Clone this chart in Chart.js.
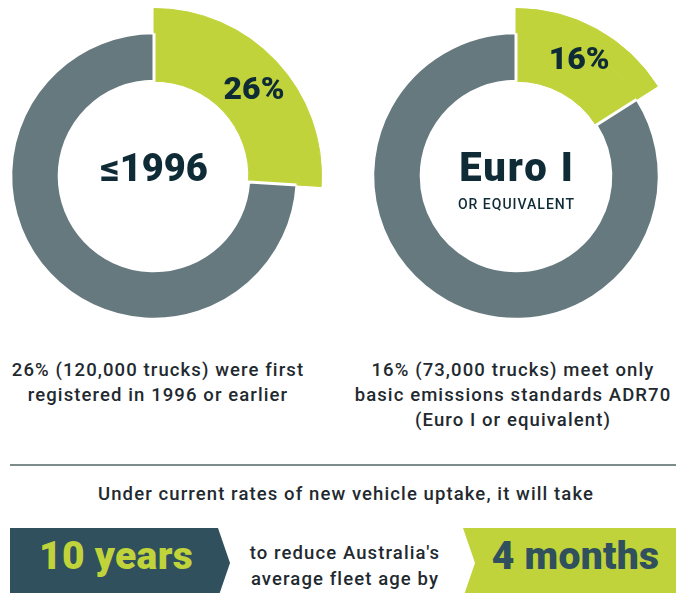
<!DOCTYPE html>
<html>
<head>
<meta charset="utf-8">
<script src="https://cdn.jsdelivr.net/npm/chart.js@4.4.0/dist/chart.umd.min.js"></script>
<style>
  html, body { margin: 0; padding: 0; }
  body {
    width: 676px; height: 593px; overflow: hidden; position: relative;
    background: #ffffff; font-family: Roboto, 'Noto Sans', sans-serif; color: #1f2a30;
  }
  canvas { position: absolute; top: 8px; }
  #ageChart { left: -14px; }
  #euroChart { left: 348px; }
  .txt { font-size: 18.5px; font-weight: 500; letter-spacing: 1.1px; }
  .caption { position: absolute; text-align: center; line-height: 25px; }
  #capLeft { left: -2px; top: 358px; width: 320px; }
  #capRight { left: 343px; top: 358px; width: 340px; }
  #rule { position: absolute; left: 10px; right: 0; top: 464px; height: 2px; background: #7d8b8c; }
  #uptake { position: absolute; left: 0; width: 692px; top: 482px; text-align: center; line-height: 25px; }
  .box { position: absolute; top: 528px; height: 70px; }
  #yearsBox { left: 10px; width: 220px; background: #2f505c; clip-path: polygon(0 0, 208px 0, 220px 35px, 208px 70px, 0 70px); }
  #monthsBox { left: 463px; width: 213px; background: #c1d33a; clip-path: polygon(0 0, 100% 0, 100% 100%, 0 100%, 12px 35px); }
  .big { position: absolute; top: 536px; font-size: 39px; line-height: 40px; font-weight: 900; letter-spacing: 0.3px; text-align: center; }
  #years { left: 10px; width: 212px; color: #c1d33a; }
  #months { left: 475px; width: 201px; color: #2f505c; }
  #reduce { position: absolute; left: 225px; width: 240px; top: 540px; text-align: center; line-height: 26px; }
</style>
</head>
<body>
<canvas id="ageChart" width="336" height="336"></canvas>
<canvas id="euroChart" width="336" height="336"></canvas>
<div class="caption txt" id="capLeft">26% (120,000 trucks) were first<br>registered in 1996 or earlier</div>
<div class="caption txt" id="capRight">16% (73,000 trucks) meet only<br>basic emissions standards ADR70<br>(Euro I or equivalent)</div>
<div id="rule"></div>
<div class="txt" id="uptake">Under current rates of new vehicle uptake, it will take</div>
<div class="box" id="yearsBox"></div>
<div class="big" id="years">10 years</div>
<div class="txt" id="reduce">to reduce Australia's<br>average fleet age by</div>
<div class="box" id="monthsBox"></div>
<div class="big" id="months">4 months</div>
<script>
// data
const sliceLabels = ['Share of fleet', 'Rest of fleet'];
const registered1996 = [26, 74];
const euroOneOnly = [16, 84];
const ageCentre = ['≤1996'];
const euroCentre = ['Euro I', 'OR EQUIVALENT'];

const GREEN = '#c1d33a';
const GREY = '#65797f';
const DARK = '#0f2b36';
const FONT = "Roboto, 'Noto Sans', sans-serif";

// percent label on the green slice + text in the hole
const donutText = {
    id: 'donutText',
    afterDraw(chart, args, opts) {
        const ctx = chart.ctx;
        const inner = chart.getDatasetMeta(1).data[0];
        const outer = chart.getDatasetMeta(0).data[0];
        const mid = (inner.startAngle + inner.endAngle) / 2 + (opts.angleNudge || 0);
        const r = (inner.innerRadius + outer.outerRadius) / 2;
        const x = inner.x + Math.cos(mid) * r;
        const y = inner.y + Math.sin(mid) * r;

        ctx.save();
        ctx.fillStyle = DARK;
        ctx.textAlign = 'center';
        ctx.textBaseline = 'middle';
        ctx.font = '900 32px ' + FONT;
        ctx.fillText(chart.data.datasets[1].data[0] + '%', x, y);

        const lines = opts.centre;
        ctx.font = '900 ' + opts.size + 'px ' + FONT;
        ctx.letterSpacing = opts.spacing + 'px';
        ctx.fillText(lines[0], inner.x + opts.spacing / 2, inner.y - 5);
        if (lines[1]) {
            ctx.font = '500 14px ' + FONT;
            ctx.letterSpacing = '1px';
            ctx.fillText(lines[1], inner.x + 0.5, inner.y + 29);
        }
        ctx.restore();
    }
};

function makeDonut(id, values, centre, nudge, size, spacing) {
    const ctx = document.getElementById(id).getContext('2d');
    return new Chart(ctx, {
        type: 'doughnut',
        data: {
            labels: sliceLabels,
            datasets: [{
                // outer band: only the highlighted slice pokes out
                data: values,
                weight: 1,
                backgroundColor: [GREEN, 'rgba(0,0,0,0)'],
                borderColor: [GREEN, 'rgba(0,0,0,0)'],
                borderWidth: [1, 0]
            }, {
                data: values,
                weight: 2,
                backgroundColor: [GREEN, GREY],
                borderColor: [GREEN, '#ffffff'],
                borderWidth: [1, 3]
            }]
        },
        options: {
            responsive: false,
            animation: false,
            events: [],
            cutout: '56.6%',
            plugins: {
                legend: { display: false },
                tooltip: { enabled: false },
                donutText: { centre: centre, angleNudge: nudge, size: size, spacing: spacing }
            }
        },
        plugins: [donutText]
    });
}

makeDonut('ageChart', registered1996, ageCentre, 0.05, 38, 0);
makeDonut('euroChart', euroOneOnly, euroCentre, 0, 40, 2);
</script>
</body>
</html>
